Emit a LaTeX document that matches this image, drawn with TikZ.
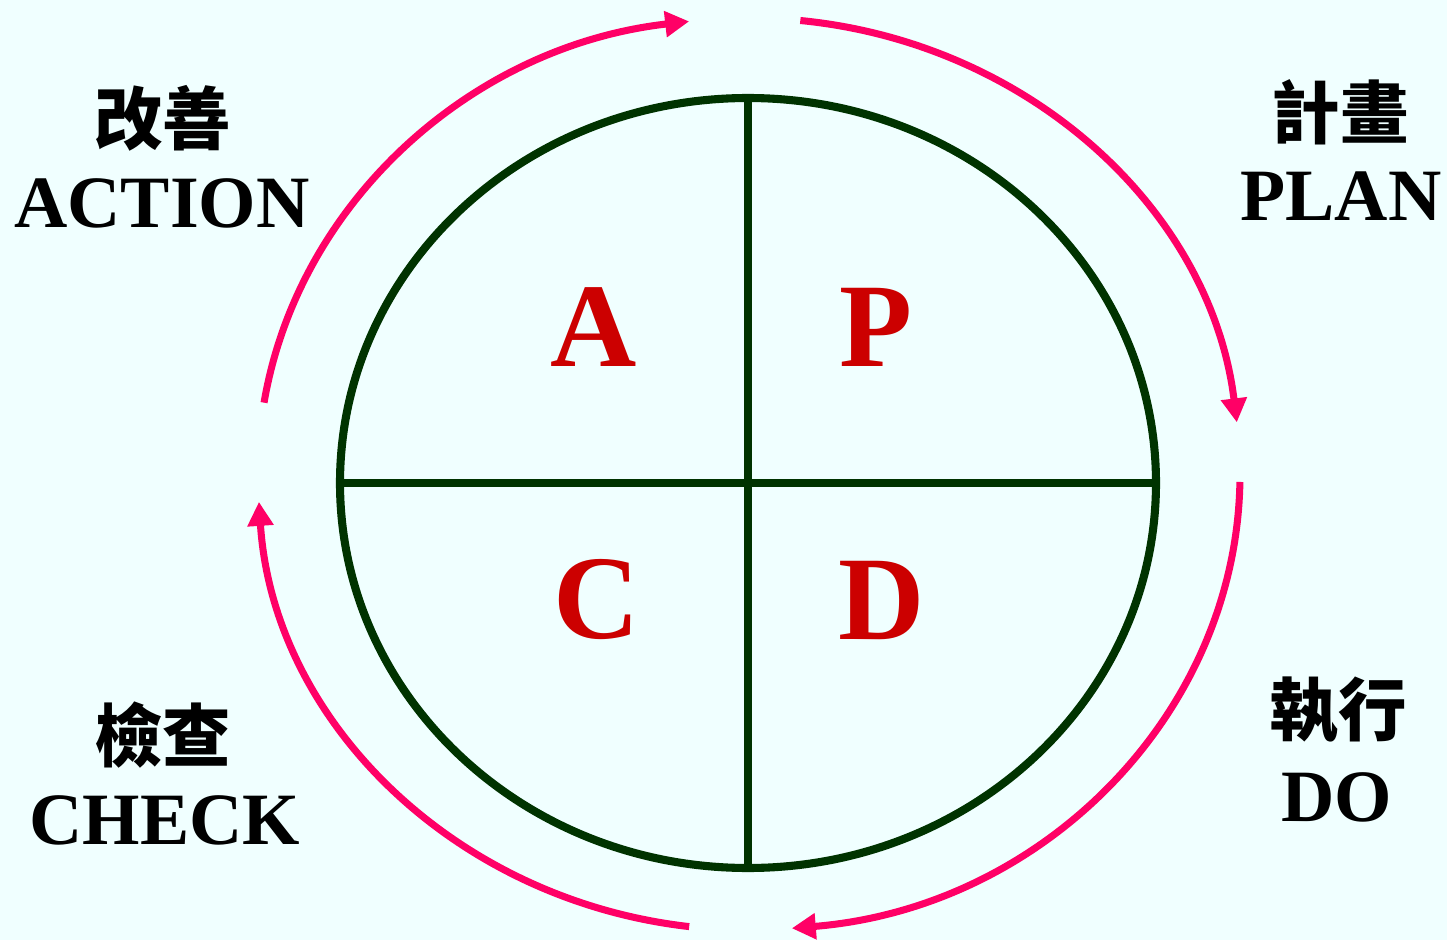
\documentclass[tikz,border=0pt]{standalone}
\usepackage{fontspec}
\setmainfont{Liberation Serif}
\newfontfamily\cjkfont{Noto Sans CJK TC}
\usetikzlibrary{arrows.meta}
\definecolor{bgcol}{RGB}{240,255,255}
\definecolor{ringcol}{RGB}{0,51,0}
\definecolor{turncol}{RGB}{255,0,102}
\definecolor{lettercol}{RGB}{204,0,0}

\begin{document}
\begin{tikzpicture}[x=0.1mm,y=-0.1mm,>={Triangle[length=2.4mm,width=2.5mm]},
    turn/.style={turncol,line width=2pt,->},
    ring/.style={ringcol,line width=2.3pt},
    phase/.style={lettercol,font=\bfseries\fontsize{34}{34}\selectfont},
    zh/.style={font=\cjkfont\bfseries\fontsize{19.5}{20}\selectfont},
    en/.style={font=\bfseries\fontsize{21}{22}\selectfont}]
  \fill[bgcol] (0,0) rectangle (1447,940);
  \useasboundingbox (0,0) rectangle (1447,940);
  % ---------------- outer PDCA arrows -------------------------
  \foreach \ta/\tb in {189/263,276/353.5,1/85,97/176.5}
    \draw[turn] (749,474) ++(\ta:491 and 456)
      arc[start angle=\ta,end angle=\tb,x radius=491,y radius=456];
  % ---------------- the wheel ---------------------------------
  \draw[ring] (748,483) ellipse [x radius=408,y radius=385];
  \draw[ring] (748,98) -- (748,868);
  \draw[ring] (340,483) -- (1156,483);
  \node[phase] (pA) at (594,327) {A};
  \node[phase] (pP) at (876,327) {P};
  \node[phase] (pC) at (597,600) {C};
  \node[phase] (pD) at (882,600) {D};
  % ---------------- corner labels -----------------------------
  \node[zh] (actzh) at (163,118) {改善};
  \node[en] (acten) at (162,203) {ACTION};
  \node[zh] (planzh) at (1340,112) {計畫};
  \node[en] (planen) at (1341,196) {PLAN};
  \node[zh] (dozh) at (1338,710) {執行};
  \node[en] (doen) at (1337,797) {DO};
  \node[zh] (chkzh) at (163,735) {檢查};
  \node[en] (chken) at (165,820) {CHECK};
\end{tikzpicture}
\end{document}
